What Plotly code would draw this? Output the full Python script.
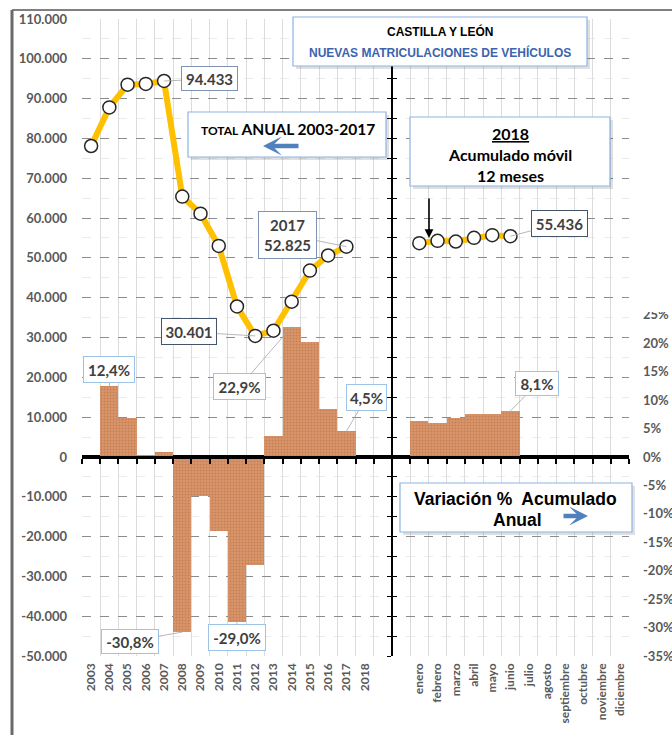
import plotly.graph_objects as go

# ---------------- data ----------------
years = ["2003", "2004", "2005", "2006", "2007", "2008", "2009", "2010",
         "2011", "2012", "2013", "2014", "2015", "2016", "2017"]
annual_total = [78100, 87800, 93500, 93700, 94433, 65400, 61100, 53000,
                37800, 30401, 31700, 39000, 46800, 50600, 52825]
months = ["enero", "febrero", "marzo", "abril", "mayo", "junio", "julio",
          "agosto", "septiembre", "octubre", "noviembre", "diciembre"]
rolling_2018 = [53700, 54280, 54100, 55030, 55700, 55436]
spacer_categories = ["2018", " ", "  "]
categories = years + spacer_categories + months

pct_annual = [None, 12.4, 6.8, 0.3, 0.9, -30.8, -6.9, -13.1, -29.0, -19.0,
              3.6, 22.9, 20.2, 8.5, 4.5]
pct_2018 = [6.3, 6.0, 6.8, 7.6, 7.6, 8.1]

left_ticks = list(range(-50000, 110001, 10000))
right_ticks = list(range(-35, 26, 5))

# ---------------- helpers ----------------
W, H = 672, 735
L, R, T, B = 82, 43, 19, 79
PW, PH = W - L - R, H - T - B


def px(x):
    return (x - L) / PW


def py(y):
    return (H - B - y) / PH


def fmt_int(v):
    return f"{v:,}".replace(",", ".")


def fmt_pct(v):
    return f"{v:.1f}%".replace(".", ",")


def cat(c):
    return categories.index(c)


y2min, y2max = left_ticks[0], left_ticks[-1]
k = right_ticks[0] / y2min  # percent per vehicle unit (axes aligned at 0)
yrange_pct = [y2min * k, y2max * k]
zero_pos = (0 - y2min) / (y2max - y2min)
mid_axis_pos = categories.index("  ") / len(categories)

GRAY = "#595959"
FONT = "Lato"

bar_x = years + months[:len(pct_2018)]
bar_y = pct_annual + pct_2018

fig = go.Figure()
fig.add_trace(go.Bar(
    x=bar_x, y=bar_y, xaxis="x", yaxis="y",
    marker=dict(color="#d38c5e", line_width=0,
                pattern=dict(shape=".", fgcolor="#b96d3c", bgcolor="#d7946a",
                             size=3, solidity=0.35)),
    hoverinfo="x+y", showlegend=False))
fig.add_trace(go.Scatter(
    x=years, y=annual_total, xaxis="x", yaxis="y2", mode="lines+markers",
    line=dict(color="#ffc000", width=6),
    marker=dict(size=13, color="white", line=dict(color="#262626", width=1.5)),
    showlegend=False))
fig.add_trace(go.Scatter(
    x=months[:len(rolling_2018)], y=rolling_2018, xaxis="x", yaxis="y2",
    mode="lines+markers", line=dict(color="#ffc000", width=6),
    marker=dict(size=13, color="white", line=dict(color="#262626", width=1.5)),
    showlegend=False))
# invisible anchors so the decorative axes (zero line ticks, middle axis) are drawn
for xa, ya in [("x2", "y"), ("x", "y3"), ("x", "y4")]:
    fig.add_trace(go.Scatter(x=[0] if xa == "x2" else [categories[0]], y=[0],
                             xaxis=xa, yaxis=ya, mode="markers",
                             marker=dict(opacity=0), hoverinfo="skip",
                             showlegend=False))

# ---------------- annotations ----------------
ann = []


def label(xcat, yval, yref, text, ax, ay, w, h, border):
    ann.append(dict(
        x=cat(xcat), y=yval, xref="x", yref=yref, text=text, showarrow=True,
        arrowhead=0, arrowwidth=0.8, arrowcolor="#a6a6a6", standoff=0,
        ax=ax, ay=ay, bgcolor="white", bordercolor=border, borderwidth=1,
        borderpad=0, width=w, height=h,
        font=dict(family=FONT, size=15, color="#404040", weight="bold")))


VAL_B = "#7f93b5"
PCT_B = "#9dc3e6"
i07 = years.index("2007")
label("2007", annual_total[i07], "y2", fmt_int(annual_total[i07]), 45, -2, 55, 23, VAL_B)
label("2017", annual_total[-1], "y2", "2017<br>" + fmt_int(annual_total[-1]), -59, -12, 57, 46, VAL_B)
i12 = annual_total.index(min(annual_total))
label(years[i12], annual_total[i12], "y2", fmt_int(annual_total[i12]), -66, -4, 54, 25, "#44546a")
label(months[len(rolling_2018) - 1], rolling_2018[-1], "y2", fmt_int(rolling_2018[-1]), 49, -13, 55, 25, "#44546a")

for yr, ax, ay, w, h in [("2004", 0, -17, 50, 25), ("2014", -52, 60, 51, 25),
                         ("2017", 20, -34, 39, 25), ("2008", -52, 9, 56, 23),
                         ("2011", 0, 16, 56, 25)]:
    v = pct_annual[years.index(yr)]
    label(yr, v, "y", fmt_pct(v), ax, ay, w, h, PCT_B)
label(months[len(pct_2018) - 1], pct_2018[-1], "y", fmt_pct(pct_2018[-1]), 27, -27, 42, 23, PCT_B)


def text(x, y, s, size, color="black", family=FONT):
    ann.append(dict(x=px(x), y=py(y), xref="paper", yref="paper", text=s,
                    showarrow=False, xanchor="center", yanchor="middle",
                    font=dict(family=family, size=size, color=color, weight="bold")))


def arrow(hx, hy, tx, ty, color, width, head, size):
    ann.append(dict(x=px(hx), y=py(hy), xref="paper", yref="paper", text="",
                    showarrow=True, ax=tx - hx, ay=ty - hy, arrowhead=head,
                    arrowwidth=width, arrowsize=size, arrowcolor=color, standoff=0))


text(440, 31, "CASTILLA Y LEÓN", 12, "black", "Liberation Sans")
text(440, 52, "NUEVAS MATRICULACIONES DE VEHÍCULOS", 12, "#3b64ad", "Liberation Sans")
text(288, 129, "<span style='font-size:12px'>TOTAL</span> ANUAL 2003-2017", 15.5)
arrow(263, 146, 300, 146, "#4f81bd", 4.5, 3, 0.7)
text(510, 134, "<u>2018</u>", 16)
text(510, 155, "Acumulado móvil", 16)
text(510, 176, "12 meses", 16)
arrow(429, 238, 429, 197, "black", 1.6, 2, 1.1)
text(515, 499, "Variación %\u00a0 Acumulado", 17.5, "black", "Liberation Sans")
text(517, 520, "Anual", 17.5, "black", "Liberation Sans")
arrow(588, 516, 562, 516, "#4f81bd", 4.5, 3, 0.7)

# ---------------- shapes ----------------
shapes = []


def box(x0, y0, x1, y1, border):
    shapes.append(dict(type="rect", xref="paper", yref="paper", layer="above",
                       x0=px(x0 + 3), x1=px(x1 + 3), y0=py(y1 + 3), y1=py(y0 + 3),
                       fillcolor="rgba(0,0,0,0.12)", line=dict(width=0)))
    shapes.append(dict(type="rect", xref="paper", yref="paper", layer="above",
                       x0=px(x0), x1=px(x1), y0=py(y1), y1=py(y0),
                       fillcolor="white", line=dict(color=border, width=1.2)))


BOX_B = "#8eb4e3"
box(293, 17, 587, 66, BOX_B)
box(188, 112, 386, 157, BOX_B)
box(410, 117, 610, 186, BOX_B)
box(400, 483, 632, 532, BOX_B)

# white area hiding the upper right axis labels
shapes.append(dict(type="rect", xref="paper", yref="paper", layer="above",
                   x0=px(634), x1=px(700), y0=py(312), y1=py(0),
                   fillcolor="white", line=dict(width=0)))
# outer frame
shapes.append(dict(type="line", xref="paper", yref="paper", layer="above",
                   x0=px(12), x1=px(700), y0=py(10), y1=py(10),
                   line=dict(color="#808080", width=2)))
shapes.append(dict(type="line", xref="paper", yref="paper", layer="above",
                   x0=px(12), x1=px(12), y0=py(10), y1=py(760),
                   line=dict(color="#6a6a6a", width=3)))

tickfont = dict(family=FONT, size=13, color=GRAY, weight="bold")

fig.update_layout(
    width=W, height=H, margin=dict(l=L, r=R, t=T, b=B, autoexpand=False),
    paper_bgcolor="white", plot_bgcolor="white", bargap=0,
    xaxis=dict(type="category", categoryorder="array", categoryarray=categories,
               range=[-0.5, len(categories) - 0.5], tickson="boundaries",
               showgrid=True, gridcolor="#dcdcdc", gridwidth=1, ticks="",
               tickangle=-90, showline=False, zeroline=False,
               tickfont=dict(family=FONT, size=12, color=GRAY, weight="bold"),
               ticklabelstandoff=4, automargin=False),
    xaxis2=dict(overlaying="x", anchor="free", position=zero_pos, type="linear",
                range=[-0.5, len(categories) - 0.5], tickmode="linear", tick0=-0.5,
                dtick=1, ticks="outside", ticklen=5, tickwidth=1.5, tickcolor="black",
                showline=True, linecolor="black", linewidth=2.5,
                showticklabels=False, showgrid=False, zeroline=False),
    yaxis=dict(side="right", range=yrange_pct, tickmode="array", tickvals=right_ticks,
               ticktext=[f"{v}%" for v in right_ticks], showgrid=False,
               zeroline=False, ticks="", tickfont=tickfont, ticklabelstandoff=13,
               automargin=False),
    yaxis2=dict(overlaying="y", side="left", range=[y2min, y2max], tickmode="array",
                tickvals=left_ticks, ticktext=[fmt_int(v) for v in left_ticks],
                showgrid=True, gridcolor="#8c8c8c", griddash="dash", gridwidth=1,
                minor=dict(tickmode="linear", tick0=0, dtick=5000, showgrid=True,
                           gridcolor="#ebebeb", gridwidth=1),
                zeroline=True, zerolinecolor="black", zerolinewidth=2.5,
                ticks="", tickfont=tickfont, ticklabelstandoff=14, automargin=False),
    yaxis3=dict(overlaying="y", anchor="free", position=mid_axis_pos,
                range=[y2min, y2max], tickmode="linear", tick0=0, dtick=5000,
                ticks="outside", ticklen=4, tickwidth=1.3, tickcolor="black",
                showline=True, linecolor="black", linewidth=1.5,
                showticklabels=False, showgrid=False, zeroline=False),
    yaxis4=dict(overlaying="y", anchor="free", position=mid_axis_pos,
                range=[y2min, y2max], tickmode="linear", tick0=0, dtick=5000,
                ticks="inside", ticklen=4, tickwidth=1.3, tickcolor="black",
                showline=False, showticklabels=False, showgrid=False, zeroline=False),
    shapes=shapes, annotations=ann, showlegend=False,
)

fig.write_html("out.html", config={"displayModeBar": False},
               post_script="document.body.style.margin='0';")
